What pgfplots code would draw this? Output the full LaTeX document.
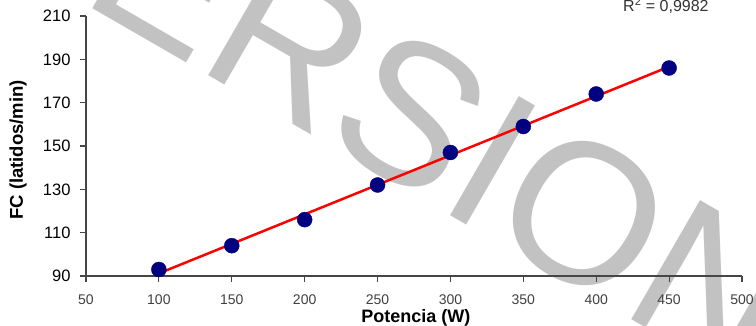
\documentclass[border=0pt]{standalone}
\usepackage{pgfplots}
\pgfplotsset{compat=1.18}
\usepackage{fontspec}
\setmainfont{Liberation Sans}
\definecolor{wm}{RGB}{194,194,194}
\definecolor{navy}{RGB}{0,0,128}
\definecolor{axgray}{RGB}{70,70,70}
\begin{document}
\begin{tikzpicture}
\path[use as bounding box] (0,0) rectangle (756pt,326pt);
\node[anchor=base west, inner sep=0pt, rotate=-30, text=wm, font=\fontsize{200}{200}\selectfont] at (-37pt,392pt) {VERSION};
\begin{axis}[
  at={(86pt,50pt)}, anchor=south west,
  scale only axis, width=656pt, height=260pt,
  xmin=50, xmax=500, ymin=90, ymax=210,
  xtick={50,100,...,500}, ytick={90,110,...,210},
  axis lines*=left,
  axis line style={axgray, line width=1.8pt},
  tick style={axgray, line width=1.2pt},
  tick align=outside, major tick length=6pt,
  clip=false,
  /pgf/number format/assume math mode=true,
  xticklabel style={font=\fontsize{14}{16}\selectfont, text=black!75, yshift=-9pt},
  yticklabel style={font=\fontsize{16.5}{18}\selectfont, xshift=-6pt},
  xlabel={\textbf{Potencia (W)}},
  ylabel={\textbf{FC (latidos/min)}},
  xlabel style={font=\fontsize{18}{20}\selectfont, at={(axis description cs:0.503,-0.1615)}, anchor=center},
  ylabel style={font=\fontsize{18.5}{20}\selectfont, at={(axis description cs:-0.1037,0.485)}, anchor=center},
]
\addplot[only marks, mark=*, mark size=7.5pt, color=navy] coordinates {
(100,93) (150,104) (200,116) (250,132) (300,147) (350,159) (400,174) (450,186)
};
\addplot[red, line width=2.5pt] coordinates {(100,91.2) (450,186.6)};
\end{axis}
\node[anchor=base west, inner sep=0pt, font=\fontsize{16}{18}\selectfont, text=black!80] at (623pt,314pt) {R\textsuperscript{2} = 0,9982};
\end{tikzpicture}
\end{document}
